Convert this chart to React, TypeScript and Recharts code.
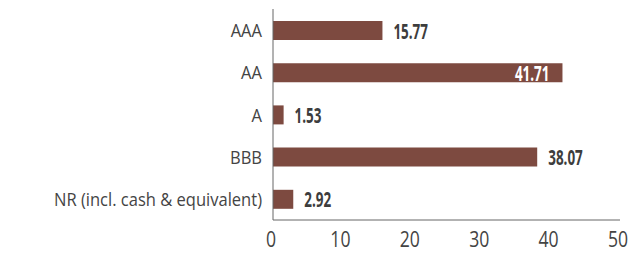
import { BarChart, Bar, XAxis, YAxis, LabelList } from "recharts";

const RATINGS = ["AAA", "AA", "A", "BBB", "NR (incl. cash & equivalent)"];
const WEIGHTS = [15.77, 41.71, 1.53, 38.07, 2.92];
const X_TICKS = [0, 10, 20, 30, 40, 50];

const data = RATINGS.map((rating, i) => ({ rating, weight: WEIGHTS[i] }));

const FONT = "'Open Sans', sans-serif";
const BAR = "#7d4a40";

// no condensed face installed, so squeeze a regular one horizontally
function Narrow({ x, y, anchor, size, weight, fill, squeeze, children }: any) {
  return (
    <g transform={`translate(${x},${y}) scale(${squeeze},1)`}>
      <text
        x={0}
        y={0}
        textAnchor={anchor}
        fontSize={size}
        fontWeight={weight}
        fill={fill}
        fontFamily={FONT}
      >
        {children}
      </text>
    </g>
  );
}

function YTick(props: any) {
  const { x, y, payload } = props;
  return (
    <Narrow x={x + 5} y={y + 7} anchor="end" size={19} squeeze={0.87} fill="#444">
      {payload.value}
    </Narrow>
  );
}

function XTick(props: any) {
  const { x, y, payload } = props;
  return (
    <Narrow x={x - 2} y={y + 19} anchor="middle" size={22} squeeze={0.8} fill="#444">
      {payload.value}
    </Narrow>
  );
}

// the longest bar carries its value inside, in white
function ValueLabel(props: any) {
  const { x, y, width, height, value } = props;
  const inside = value > 40;
  return (
    <Narrow
      x={inside ? x + width - 13 : x + width + 11}
      y={y + height / 2 + 8}
      anchor={inside ? "end" : "start"}
      size={21}
      squeeze={0.64}
      weight="bold"
      fill={inside ? "#ffffff" : "#3d3d3d"}
    >
      {value.toFixed(2)}
    </Narrow>
  );
}

export default function App() {
  return (
    <div style={{ position: "absolute", left: 0, top: 0, background: "#fff" }}>
      <BarChart
        width={638}
        height={260}
        data={data}
        layout="vertical"
        margin={{ top: 9, right: 18, bottom: 0, left: 0 }}
        barCategoryGap={0}
      >
        <XAxis
          type="number"
          domain={[0, 50]}
          ticks={X_TICKS}
          tickLine={false}
          axisLine={{ stroke: "#666" }}
          height={40}
          tick={<XTick />}
        />
        <YAxis
          type="category"
          dataKey="rating"
          width={273}
          tickLine={false}
          axisLine={{ stroke: "#666" }}
          tick={<YTick />}
          tickMargin={10}
        />
        <Bar dataKey="weight" fill={BAR} barSize={19} isAnimationActive={false}>
          <LabelList dataKey="weight" content={ValueLabel} />
        </Bar>
      </BarChart>
    </div>
  );
}
